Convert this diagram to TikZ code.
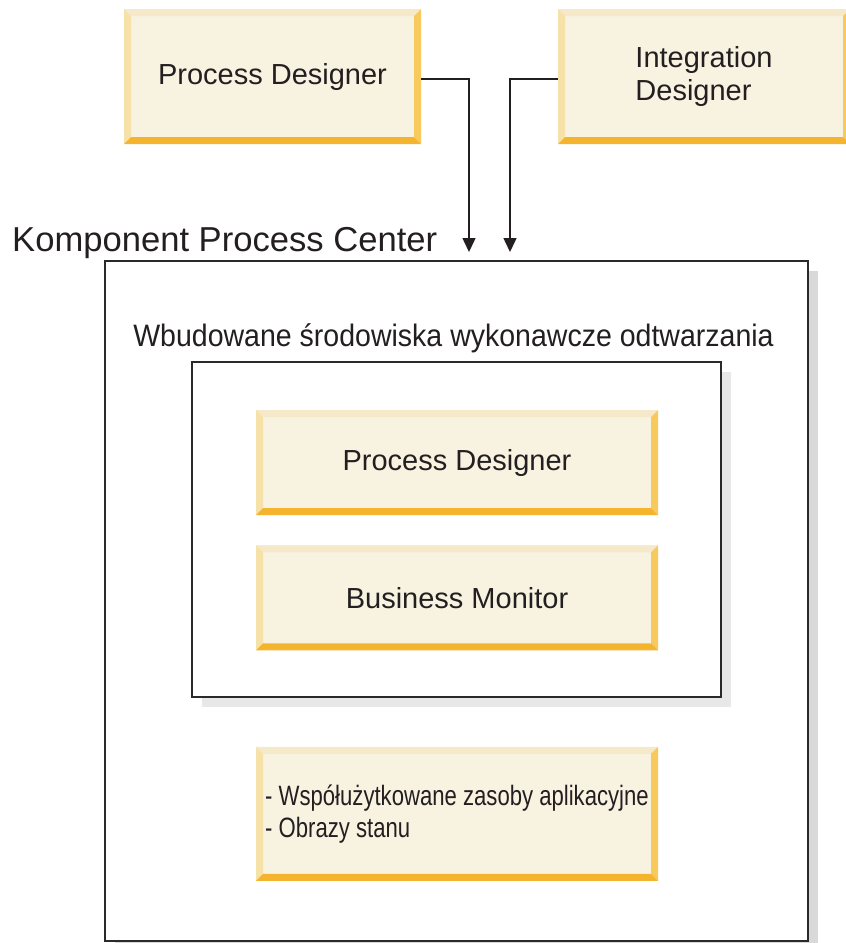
\documentclass[tikz,border=0pt]{standalone}
\usepackage{fontspec}
\setmainfont{Liberation Sans}
\newfontfamily\semifont[FakeStretch=0.92]{Liberation Sans}
\newfontfamily\narrowfont[FakeStretch=0.79]{Liberation Sans}
\usetikzlibrary{positioning,shadows,arrows.meta}
\definecolor{boxfill}{HTML}{F8F2E1}
\definecolor{bevtop}{HTML}{F5E9C9}
\definecolor{bevleft}{HTML}{F6E1A8}
\definecolor{bevright}{HTML}{F8C95C}
\definecolor{bevbottom}{HTML}{F4B42E}
\definecolor{textcol}{HTML}{231F20}
\definecolor{framecol}{HTML}{2A2A2A}
\tikzstyle{bevelbox} = [rectangle, fill=boxfill, text=textcol, inner sep=0pt,
    font=\fontsize{29}{33}\selectfont,
    path picture={
      \fill[bevtop] (path picture bounding box.north west) -- (path picture bounding box.north east)
        -- ([shift={(-7pt,-7pt)}]path picture bounding box.north east)
        -- ([shift={(7pt,-7pt)}]path picture bounding box.north west) -- cycle;
      \fill[bevleft] (path picture bounding box.north west) -- ([shift={(7pt,-7pt)}]path picture bounding box.north west)
        -- ([shift={(7pt,7pt)}]path picture bounding box.south west) -- (path picture bounding box.south west) -- cycle;
      \fill[bevright] (path picture bounding box.north east) -- ([shift={(-7pt,-7pt)}]path picture bounding box.north east)
        -- ([shift={(-7pt,7pt)}]path picture bounding box.south east) -- (path picture bounding box.south east) -- cycle;
      \fill[bevbottom] (path picture bounding box.south west) -- (path picture bounding box.south east)
        -- ([shift={(-7pt,7pt)}]path picture bounding box.south east)
        -- ([shift={(7pt,7pt)}]path picture bounding box.south west) -- cycle;
    }]
\tikzstyle{framebox} = [rectangle, draw=framecol, fill=white, line width=1.8pt]
\tikzstyle{arrowline} = [draw=textcol, line width=1.5pt, -{Triangle[length=14pt,width=13pt]}]

\begin{document}
\begin{tikzpicture}[x=1pt,y=-1pt]
\useasboundingbox (0,0) rectangle (846,943);
\clip (0,0) rectangle (846,943);

% tools on top
\node [bevelbox, minimum width=297pt, minimum height=135pt] (pdtop) at (272.5,76.5) {Process Designer};
\node [bevelbox, minimum width=292pt, minimum height=135pt, align=left] (idtop) at (704,76.5)
    {Integration\\Designer};

% Process Center
\node [framebox, minimum width=703pt, minimum height=680pt,
    drop shadow={shadow xshift=10pt, shadow yshift=-10pt, fill=black!15, opacity=1}] (pcbox) at (456.5,601) {};
\node [anchor=base west, text=textcol, font=\fontsize{34.6}{40}\selectfont, inner sep=0pt] (pclabel) at (12,251.5)
    {Komponent Process Center};
\node [anchor=base, text=textcol, font=\semifont\fontsize{31}{36}\selectfont, inner sep=0pt] (rtlabel) at (453.5,346)
    {Wbudowane środowiska wykonawcze odtwarzania};

\node [framebox, line width=1.6pt, minimum width=529pt, minimum height=335pt,
    drop shadow={shadow xshift=10pt, shadow yshift=-10pt, fill=black!9, opacity=1}] (rtbox) at (456.5,529.5) {};

\node [bevelbox, minimum width=402pt, minimum height=105pt] (pdin) at (457,462.5) {Process Designer};
\node [bevelbox, minimum width=402pt, minimum height=105pt, below=30pt of pdin] (bmin) {Business Monitor};
\node [bevelbox, minimum width=402pt, minimum height=134pt, below=96pt of bmin, align=left,
    font=\narrowfont\fontsize{28}{32}\selectfont] (res)
    {- Współużytkowane zasoby aplikacyjne\\- Obrazy stanu};

% connectors
\coordinate (pdend) at (469,252);
\coordinate (idend) at (510,252);
\draw [arrowline] ([yshift=-2.5pt]pdtop.east) -| (pdend);
\draw [arrowline] ([yshift=-2.5pt]idtop.west) -| (idend);

\end{tikzpicture}
\end{document}
